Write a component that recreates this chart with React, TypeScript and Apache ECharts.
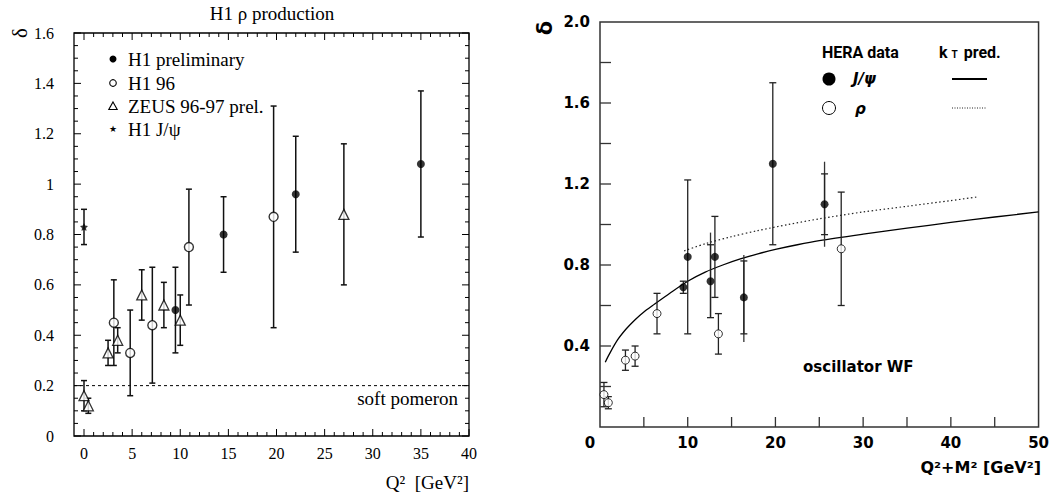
import React, { useEffect, useRef } from "react";
import * as echarts from "echarts";

// ---------- Left panel: H1 rho production, rows are [Q2, delta, errLow, errHigh] ----------
const h1Preliminary = [
  [9.5, 0.5, 0.33, 0.67],
  [14.5, 0.8, 0.65, 0.95],
  [22.0, 0.96, 0.73, 1.19],
  [35.0, 1.08, 0.79, 1.37],
];
const h196 = [
  [3.1, 0.45, 0.28, 0.62],
  [4.8, 0.33, 0.16, 0.5],
  [7.1, 0.44, 0.21, 0.67],
  [10.9, 0.75, 0.52, 0.98],
  [19.7, 0.87, 0.43, 1.31],
];
const zeus9697 = [
  [0.0, 0.16, 0.1, 0.22],
  [0.45, 0.12, 0.09, 0.15],
  [2.5, 0.33, 0.28, 0.38],
  [3.5, 0.38, 0.33, 0.43],
  [6.0, 0.56, 0.46, 0.66],
  [8.3, 0.52, 0.43, 0.61],
  [10.0, 0.46, 0.36, 0.56],
  [27.0, 0.88, 0.6, 1.16],
];
const h1Jpsi = [[0.0, 0.83, 0.76, 0.9]];
const softPomeron = 0.2;
const leftLegendLabels = ["H1 preliminary", "H1 96", "ZEUS 96-97 prel.", "H1 J/\u03c8"];
const leftXTicks = [0, 5, 10, 15, 20, 25, 30, 35, 40];
const leftYTicks = [0, 0.2, 0.4, 0.6, 0.8, 1.0, 1.2, 1.4, 1.6];

// ---------- Right panel: HERA data vs kT prediction ----------
// [Q2+M2, delta, errLow, errHigh]
const heraJpsi = [
  [9.5, 0.69, 0.66, 0.72],
  [10.0, 0.84, 0.46, 1.22],
  [12.6, 0.72, 0.54, 0.9],
  [13.1, 0.84, 0.64, 1.04],
  [16.4, 0.64, 0.46, 0.82],
  [19.7, 1.3, 0.9, 1.7],
  [25.6, 1.1, 0.95, 1.25],
];
// outer (uncapped) error extension: [x, low, high]
const heraJpsiOuter = [
  [12.6, 0.54, 0.96],
  [16.4, 0.42, 0.85],
  [25.6, 0.89, 1.31],
];
const heraRho = [
  [0.45, 0.16, 0.1, 0.22],
  [0.95, 0.12, 0.09, 0.15],
  [2.9, 0.33, 0.28, 0.38],
  [4.0, 0.35, 0.3, 0.4],
  [6.5, 0.56, 0.46, 0.66],
  [13.5, 0.46, 0.36, 0.56],
  [27.5, 0.88, 0.6, 1.16],
];
const ktPredSolid = [
  [0.6, 0.32], [1.0, 0.355], [2.0, 0.43], [3.0, 0.485], [4.0, 0.53], [5.0, 0.568],
  [6.0, 0.6], [8.0, 0.662], [10.0, 0.72], [12.0, 0.765], [14.0, 0.8], [16.0, 0.83],
  [18.0, 0.855], [20.0, 0.877], [22.5, 0.9], [25.0, 0.92], [30.0, 0.952], [35.0, 0.982],
  [40.0, 1.01], [45.0, 1.037], [50.0, 1.062],
];
const ktPredDotted = [
  [9.6, 0.87], [12.0, 0.905], [15.0, 0.94], [18.0, 0.97], [21.5, 1.0], [25.0, 1.028],
  [30.0, 1.062], [35.0, 1.09], [40.0, 1.118], [43.0, 1.136],
];
const rightXTicks = [5, 10, 15, 20, 25, 30, 35, 40, 45];
const rightYTicks = [0.2, 0.4, 0.6, 0.8, 1.0, 1.2, 1.4, 1.6, 1.8];

const SERIF = '"Liberation Serif", "Times New Roman", serif';
const SANS = '"DejaVu Sans", sans-serif';
const ROBO = 'Roboto, "Liberation Sans", sans-serif';
const STAR = "path://M0,-10 L2.9,-4 L9.5,-3.1 L4.8,1.5 L5.9,8.1 L0,5 L-5.9,8.1 L-4.8,1.5 L-9.5,-3.1 L-2.9,-4 Z";

// minor tick values between consecutive major ticks
function minorBetween(majors: number[], parts: number) {
  const out: number[] = [];
  for (let i = 0; i < majors.length - 1; i++) {
    const step = (majors[i + 1] - majors[i]) / parts;
    for (let k = 1; k < parts; k++) out.push(+(majors[i] + k * step).toFixed(4));
  }
  return out;
}

function errRender(cap: number, width: number, color: string, withCaps: boolean) {
  return (params: any, api: any) => {
    const x = api.value(0);
    const lo = api.coord([x, api.value(withCaps ? 2 : 1)]);
    const hi = api.coord([x, api.value(withCaps ? 3 : 2)]);
    const style = { stroke: color, lineWidth: width };
    const children: any[] = [
      { type: "line", shape: { x1: lo[0], y1: lo[1], x2: hi[0], y2: hi[1] }, style },
    ];
    if (withCaps) {
      children.push({ type: "line", shape: { x1: lo[0] - cap, y1: lo[1], x2: lo[0] + cap, y2: lo[1] }, style });
      children.push({ type: "line", shape: { x1: hi[0] - cap, y1: hi[1], x2: hi[0] + cap, y2: hi[1] }, style });
    }
    return { type: "group", children };
  };
}

function errSeries(data: number[][], xi: number, yi: number, cap: number, width: number, color: string, withCaps = true) {
  return {
    type: "custom",
    xAxisIndex: xi,
    yAxisIndex: yi,
    data,
    encode: { x: 0, y: 1 },
    renderItem: errRender(cap, width, color, withCaps),
    z: 3,
    silent: true,
  };
}

// inward axis ticks, placed through the axes' own scales
function tickSeries(points: number[][], xi: number, yi: number, dx: number, dy: number, len: number, color: string, width: number) {
  return {
    type: "custom",
    xAxisIndex: xi,
    yAxisIndex: yi,
    data: points,
    encode: { x: 0, y: 1 },
    clip: false,
    silent: true,
    z: 4,
    renderItem: (params: any, api: any) => {
      const p = api.coord([api.value(0), api.value(1)]);
      return {
        type: "line",
        shape: { x1: p[0], y1: p[1], x2: p[0] + dx * len, y2: p[1] + dy * len },
        style: { stroke: color, lineWidth: width },
      };
    },
  };
}

function txt(text: string, x: number, y: number, font: string, align = "left", extra: any = {}) {
  return {
    type: "text",
    x,
    y,
    ...extra,
    style: {
      text,
      font,
      fill: "#000",
      align,
      verticalAlign: "middle",
      textAlign: align,
      textVerticalAlign: "middle",
      ...(extra.style || {}),
    },
  };
}

const emptyAxis = {
  axisLine: { show: false, onZero: false },
  axisTick: { show: false },
  axisLabel: { show: false },
  splitLine: { show: false },
};
const noTicks = {
  axisLine: { show: false, onZero: false },
  axisTick: { show: false },
  minorTick: { show: false },
  splitLine: { show: false },
};

export default function App() {
  const ref = useRef<HTMLDivElement>(null);
  useEffect(() => {
    if (!ref.current) return;
    const chart = echarts.init(ref.current, undefined, { renderer: "svg" });
    const leftLabel = { fontFamily: SERIF, fontSize: 16, color: "#000" };
    const rightLabel = { fontFamily: SANS, fontSize: 15, fontWeight: "bold", color: "#000" };

    const legendRows = [59, 83, 106, 129];
    const mx = 113;

    const lxMin = minorBetween(leftXTicks, 5);
    const lyMin = minorBetween(leftYTicks, 4);
    const lyTop = leftYTicks[leftYTicks.length - 1];
    const lxRight = leftXTicks[leftXTicks.length - 1];

    const option: any = {
      animation: false,
      backgroundColor: "#fff",
      grid: [
        { left: 74, top: 33, width: 395, height: 403, show: true, borderColor: "#000", borderWidth: 1.3, backgroundColor: "transparent" },
        { left: 84, top: 33, width: 385, height: 403 },
        { left: 600, top: 22, width: 442, height: 405, show: true, borderColor: "#333", borderWidth: 1.5, backgroundColor: "transparent" },
      ],
      xAxis: [
        { gridIndex: 0, type: "value", min: -1, max: 40, ...emptyAxis },
        {
          gridIndex: 1, type: "value", min: 0, max: 40, interval: 5, ...noTicks,
          axisLabel: { ...leftLabel, margin: 9 },
        },
        {
          gridIndex: 2, type: "value", min: 0, max: 50, interval: 10, ...noTicks,
          axisLabel: {
            ...rightLabel, margin: 8,
            formatter: (v: number) => (v === 0 ? "{z|0}" : String(v)),
            rich: { z: { ...rightLabel, padding: [0, 20, 0, 0] } },
          },
        },
      ],
      yAxis: [
        {
          gridIndex: 0, type: "value", min: 0, max: 1.6, interval: 0.2, ...noTicks,
          axisLabel: { ...leftLabel, margin: 20 },
        },
        { gridIndex: 1, type: "value", min: 0, max: 1.6, ...emptyAxis },
        {
          gridIndex: 2, type: "value", min: 0, max: 2.0, interval: 0.4, ...noTicks,
          axisLabel: { ...rightLabel, margin: 10, formatter: (v: number) => (v === 0 ? "" : v.toFixed(1)) },
        },
      ],
      series: [
        {
          type: "line", xAxisIndex: 0, yAxisIndex: 0, data: [[-1, softPomeron], [40, softPomeron]],
          showSymbol: false, lineStyle: { color: "#000", width: 1, type: [3, 3] }, silent: true, z: 2,
        },
        // left panel ticks (all four sides, inward)
        tickSeries(leftXTicks.map((v) => [v, 0]), 1, 1, 0, -1, 7, "#000", 1),
        tickSeries(lxMin.map((v) => [v, 0]), 1, 1, 0, -1, 4, "#000", 1),
        tickSeries(leftXTicks.map((v) => [v, lyTop]), 1, 1, 0, 1, 7, "#000", 1),
        tickSeries(lxMin.map((v) => [v, lyTop]), 1, 1, 0, 1, 4, "#000", 1),
        tickSeries(leftYTicks.map((v) => [-1, v]), 0, 0, 1, 0, 7, "#000", 1),
        tickSeries(lyMin.map((v) => [-1, v]), 0, 0, 1, 0, 4, "#000", 1),
        tickSeries(leftYTicks.map((v) => [lxRight, v]), 0, 0, -1, 0, 7, "#000", 1),
        tickSeries(lyMin.map((v) => [lxRight, v]), 0, 0, -1, 0, 4, "#000", 1),
        // right panel ticks (bottom and left, inward)
        tickSeries(rightXTicks.map((v) => [v, 0]), 2, 2, 0, -1, 10, "#333", 1.3),
        tickSeries(rightYTicks.map((v) => [0, v]), 2, 2, 1, 0, 11, "#333", 1.3),
        errSeries(h1Preliminary, 1, 1, 3, 1.5, "#111"),
        errSeries(h196, 1, 1, 3, 1.5, "#111"),
        errSeries(zeus9697, 1, 1, 3, 1.5, "#111"),
        errSeries(h1Jpsi, 1, 1, 3, 1.5, "#111"),
        {
          name: "H1 preliminary", type: "scatter", xAxisIndex: 1, yAxisIndex: 1, data: h1Preliminary.map((d) => [d[0], d[1]]),
          symbol: "circle", symbolSize: 8, itemStyle: { color: "#000" }, z: 5,
        },
        {
          name: "H1 96", type: "scatter", xAxisIndex: 1, yAxisIndex: 1, data: h196.map((d) => [d[0], d[1]]),
          symbol: "circle", symbolSize: 9, itemStyle: { color: "#fff", borderColor: "#000", borderWidth: 1.4 }, z: 5,
        },
        {
          name: "ZEUS 96-97 prel.", type: "scatter", xAxisIndex: 1, yAxisIndex: 1, data: zeus9697.map((d) => [d[0], d[1]]),
          symbol: "triangle", symbolSize: 10, itemStyle: { color: "#fff", borderColor: "#000", borderWidth: 1.3 }, z: 5,
        },
        {
          name: "H1 J/\u03c8", type: "scatter", xAxisIndex: 1, yAxisIndex: 1, data: h1Jpsi.map((d) => [d[0], d[1]]),
          symbol: STAR, symbolSize: 8, itemStyle: { color: "#000" }, z: 5,
        },
        {
          type: "line", xAxisIndex: 2, yAxisIndex: 2, data: ktPredSolid, smooth: 0.3, showSymbol: false,
          lineStyle: { color: "#000", width: 1.3 }, silent: true, z: 2,
        },
        {
          type: "line", xAxisIndex: 2, yAxisIndex: 2, data: ktPredDotted, smooth: 0.3, showSymbol: false,
          lineStyle: { color: "#222", width: 1.2, type: [1.5, 2.5] }, silent: true, z: 2,
        },
        errSeries(heraJpsiOuter, 2, 2, 3.5, 1.3, "#333", false),
        errSeries(heraJpsi, 2, 2, 3.5, 1.3, "#222"),
        errSeries(heraRho, 2, 2, 3.5, 1.3, "#222"),
        {
          name: "J/\u03c8", type: "scatter", xAxisIndex: 2, yAxisIndex: 2, data: heraJpsi.map((d) => [d[0], d[1]]),
          symbol: "circle", symbolSize: 8, itemStyle: { color: "#000" }, z: 5,
        },
        {
          name: "\u03c1", type: "scatter", xAxisIndex: 2, yAxisIndex: 2, data: heraRho.map((d) => [d[0], d[1]]),
          symbol: "circle", symbolSize: 8, itemStyle: { color: "#fff", borderColor: "#000", borderWidth: 1 }, z: 5,
        },
      ],
      graphic: [
        txt("H1 \u03c1 production", 272, 13, `19px ${SERIF}`, "center"),
        txt("\u03b4", 20, 33, `21px ${SERIF}`, "center", { rotation: Math.PI / 2 }),
        { type: "circle", shape: { cx: mx, cy: legendRows[0], r: 3.5 }, style: { fill: "#000" } },
        { type: "circle", shape: { cx: mx, cy: legendRows[1], r: 3.3 }, style: { fill: "#fff", stroke: "#000", lineWidth: 1.1 } },
        {
          type: "polygon",
          shape: { points: [[mx, legendRows[2] - 4], [mx + 4.2, legendRows[2] + 3.5], [mx - 4.2, legendRows[2] + 3.5]] },
          style: { fill: "#fff", stroke: "#000", lineWidth: 1.1 },
        },
        txt("\u2605", mx, legendRows[3], `9px ${SANS}`, "center"),
        ...leftLegendLabels.map((l, i) => txt(l, 128, legendRows[i], `19px ${SERIF}`)),
        txt("soft pomeron", 458, 398, `19px ${SERIF}`, "right"),
        txt("Q\u00b2  [GeV\u00b2]", 469, 482, `19px ${SERIF}`, "right"),
        txt("\u03b4", 545, 28, `bold 21px ${SANS}`, "center", { rotation: Math.PI / 2 }),
        txt("HERA data", 822, 52, `bold 16px ${ROBO}`),
        {
          type: "text",
          x: 939,
          y: 52,
          style: {
            text: "{a|k }{s|T}{a| pred.}",
            align: "left",
            verticalAlign: "middle",
            textAlign: "left",
            textVerticalAlign: "middle",
            rich: {
              a: { font: `bold 16px ${ROBO}`, fill: "#000" },
              s: { font: `bold 10px ${ROBO}`, fill: "#000", padding: [5, 2, 0, 0] },
            },
          },
        },
        { type: "circle", shape: { cx: 829, cy: 79, r: 6.5 }, style: { fill: "#000" } },
        { type: "circle", shape: { cx: 829, cy: 108, r: 6.5 }, style: { fill: "#fff", stroke: "#000", lineWidth: 1 } },
        txt("J/\u03c8", 853, 79, `italic bold 15px ${SANS}`),
        txt("\u03c1", 855, 109, `italic bold 15px ${SANS}`),
        { type: "line", shape: { x1: 952, y1: 79, x2: 987, y2: 79 }, style: { stroke: "#000", lineWidth: 2 } },
        { type: "line", shape: { x1: 952, y1: 108, x2: 987, y2: 108 }, style: { stroke: "#222", lineWidth: 1, lineDash: [1, 1.5] } },
        txt("oscillator WF", 803, 367, `bold 15px ${SANS}`),
        txt("Q\u00b2+M\u00b2 [GeV\u00b2]", 1041, 467, `bold 16px ${SANS}`, "right"),
      ],
    };
    chart.setOption(option);
    return () => chart.dispose();
  }, []);
  return (
    <div
      ref={ref}
      style={{ position: "fixed", left: 0, top: 0, width: 1052, height: 496, background: "#fff" }}
    />
  );
}
